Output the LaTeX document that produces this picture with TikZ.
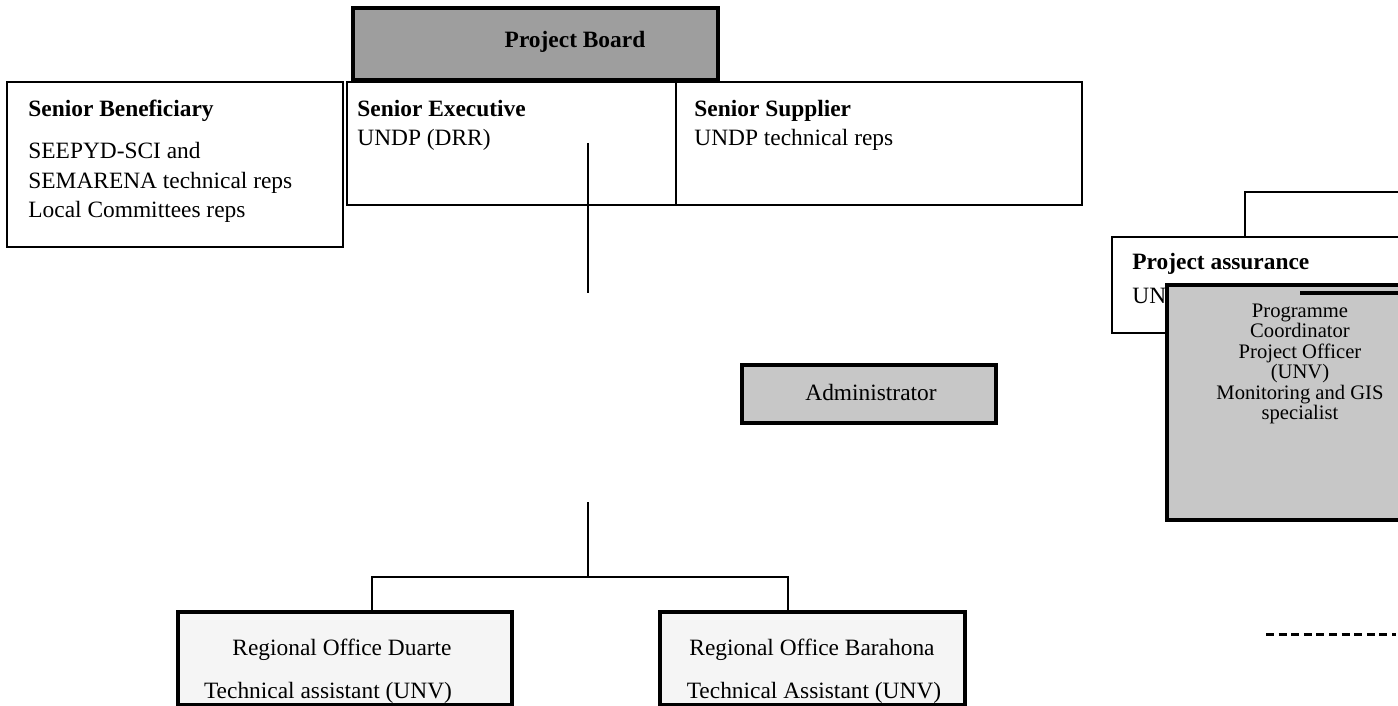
\documentclass[tikz,border=0pt]{standalone}
\usepackage{fontspec}
\setmainfont{Liberation Serif}
\usetikzlibrary{fit}
\begin{document}
\begin{tikzpicture}[x=0.5pt,y=-0.5pt,
  box/.style={draw, line width=1.2pt, inner sep=0pt, outer sep=0pt},
  board/.style={box, line width=2pt, fill=black!38},
  gbox/.style={box, line width=1.9pt, fill=black!22},
  pale/.style={box, line width=1.8pt, fill=black!4},
  txt/.style={inner sep=0pt, font=\fontsize{11.7}{14.75}\selectfont, align=left},
  btxt/.style={inner sep=0pt, font=\fontsize{11.7}{14.75}\selectfont\bfseries},
  ctxt/.style={inner sep=0pt, font=\fontsize{11.7}{14.75}\selectfont},
  stxt/.style={inner sep=0pt, font=\fontsize{10.3}{10.2}\selectfont, align=center},
  link/.style={line width=1.3pt},
  dashlink/.style={line width=1.5pt, dash pattern=on 4pt off 2.3pt}]
\useasboundingbox (0,0) rectangle (1398,706);

% Project board
\node[board, fit={(353,8)(718,80)}] (pb) {};
\node[btxt, anchor=base] (pbt) at (575,48) {Project Board};

% top row
\node[box, fit={(7,82)(343,247)}] (sb) {};
\node[btxt, anchor=base west] (sbt) at (28,117) {Senior Beneficiary};
\node[txt, anchor=base west] (sbb) at (28,218) {SEEPYD-SCI and\\SEMARENA technical reps\\Local Committees reps};

\node[box, fit={(347,82)(676,205)}] (se) {};
\node[btxt, anchor=base west] (set) at (357,117) {Senior Executive};
\node[ctxt, anchor=base west] (seb) at (357,146) {UNDP (DRR)};

\node[box, fit={(676,82)(1082,205)}] (ss) {};
\node[btxt, anchor=base west] (sst) at (694,117) {Senior Supplier};
\node[ctxt, anchor=base west] (ssb) at (694,146) {UNDP technical reps};

% central connectors
\coordinate (c1a) at (588,143);
\coordinate (c1b) at (588,293);
\draw[link] (c1a) -- (c1b);

% Administrator
\node[gbox, fit={(742,365)(996,423)}] (adm) {};
\node[ctxt, anchor=base] (admt) at (871,400) {Administrator};

% bottom offices
\node[pale, fit={(178,612)(512,705)}] (rod) {};
\node[ctxt, anchor=base] (rodt) at (342,655) {Regional Office Duarte};
\node[ctxt, anchor=base] (rodb) at (328,698) {Technical assistant (UNV)};

\node[pale, fit={(660,612)(965,705)}] (rob) {};
\node[ctxt, anchor=base] (robt) at (812,655) {Regional Office Barahona};
\node[ctxt, anchor=base] (robb) at (814,698) {Technical Assistant (UNV)};

\coordinate (c2a) at (588,502);
\coordinate (hub) at (588,577);
\coordinate (dL) at (372,612);
\coordinate (dR) at (788,612);
\draw[link] (c2a) -- (hub);
\draw[link] (dL) |- (hub) -| (dR);

% right side: project assurance
\node[box, fit={(1112,237)(1430,333)}] (pa) {};
\node[btxt, anchor=base west] (pat) at (1132,269) {Project assurance};
\node[ctxt, anchor=base west] (pab) at (1132,303) {UN};
\coordinate (rb) at (1410,192);
\coordinate (rc) at (1245,237);
\draw[link] (rc) |- (rb);

\node[gbox, fit={(1167,285)(1430,520)}] (pc) {};
\node[stxt] (pct) at (1300,364) {Programme\\Coordinator\\Project Officer\\(UNV)\\Monitoring and GIS\\specialist};
\coordinate (sa) at (1300,293);
\coordinate (sb2) at (1410,293);
\draw[line width=1.6pt] (sa) -- (sb2);

% dashed legend line
\coordinate (da) at (1266,634);
\coordinate (db) at (1396,634);
\draw[dashlink] (da) -- (db);
\end{tikzpicture}
\end{document}
